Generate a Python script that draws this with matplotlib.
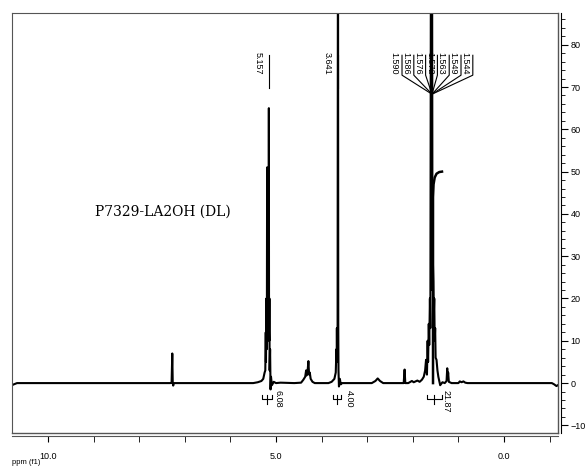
import matplotlib
matplotlib.use('Agg')
import matplotlib.pyplot as plt
from matplotlib.ticker import MultipleLocator, FormatStrFormatter

# 스펙트럼 트레이스 (ppm, intensity) - 그림에서 읽은 값
ppm = [10.81, 10.75, 10.68, 7.32, 7.29, 7.275, 7.265, 7.255, 7.24,
       5.50, 5.40, 5.32, 5.28, 5.25, 5.235, 5.225, 5.22, 5.215, 5.21,
       5.205, 5.20, 5.195, 5.19, 5.187, 5.185, 5.18, 5.177, 5.172, 5.17,
       5.165, 5.16, 5.157, 5.153, 5.15, 5.147, 5.145, 5.14,
       5.13, 5.12, 5.11, 5.09, 5.05, 5.00, 4.90, 4.60, 4.45, 4.40, 4.36,
       4.34, 4.33, 4.31, 4.29, 4.275, 4.26, 4.24, 4.20, 4.15, 3.85, 3.78,
       3.72, 3.69, 3.675, 3.67, 3.665, 3.66, 3.655, 3.65, 3.641, 3.635,
       3.63, 3.62, 3.60, 3.58, 3.55, 2.90, 2.82, 2.77, 2.72, 2.65, 2.20,
       2.18, 2.165, 2.10, 2.02, 1.98, 1.90, 1.85, 1.80, 1.76, 1.73, 1.71,
       1.69, 1.675, 1.665, 1.650, 1.64, 1.625, 1.615, 1.60, 1.59, 1.58,
       1.57, 1.563, 1.549, 1.54, 1.53, 1.52, 1.51, 1.50, 1.48, 1.46, 1.44,
       1.42, 1.40, 1.35, 1.30, 1.26, 1.245, 1.235, 1.225, 1.21, 1.15, 1.00,
       0.97, 0.93, 0.89, 0.85, 0.80, -1.05, -1.10, -1.15, -1.18]
inten = [-0.6, -0.3, 0.0, 0.0, 0.1, 7.0, 0.0, -0.6, 0.0,
         0.0, 0.2, 0.5, 1.0, 2.5, 3.0, 12, 5, 14, 20,
         8, 18, 51, 22, 36, 25, 14, 33, 18, 30,
         15, 22, 65, 12, 10, 18, 20, 3,
         8, -1.5, 1.5, -0.5, 0.3, 0.0, 0.1, 0.0, 0.1, 0.8, 1.5,
         3.0, 1.8, 2.5, 5.2, 2.0, 2.5, 1.0, 0.3, 0.0, 0.0, 0.3,
         1.0, 2.5, 8, 5, 13, 6, 12, 8, 130, 14,
         3, -0.8, 1.0, -0.3, 0.0, 0.0, 0.5, 1.1, 0.5, 0.0, 0.0,
         3.2, 0.0, 0.0, 0.5, 0.2, 0.6, 0.3, 0.8, 1.5, 3.0, 5.5,
         2.0, 10, 5, 14, 9, 20, 13, 130, 22, 130,
         40, 30, 24, 16, 20, 10, 13, 6, 5.5, 3.0, 1.5,
         0.5, -0.5, 0.2, 0.0, 0.5, 3.5, 1.0, 2.5, 0.3, 0.0, 0.0,
         0.4, 0.2, 0.4, 0.1, 0.0, 0.0, -0.3, -0.7, -0.5]

# 1.56 ppm 근처의 휘어진 선
curl_ppm = [1.557, 1.557, 1.545, 1.52, 1.48, 1.42, 1.36]
curl_int = [0, 44, 47, 48.6, 49.5, 49.9, 50.0]

# 피크 라벨
single_peaks = [5.157, 3.641]
multi_peaks = ['1.590', '1.586', '1.576', '1.572', '1.563', '1.549', '1.544']
multi_center = 1.579

# 적분 값과 범위
integrals = ['6.08', '4.00', '21.87']
int_ranges = [(5.31, 5.09), (3.75, 3.57), (1.69, 1.36)]
int_label_ppm = [4.96, 3.39, 1.27]

W, H = 586, 468
px_per_ppm = 45.6

fig = plt.figure(figsize=(W / 100, H / 100), dpi=100)
ax = fig.add_axes([12 / W, 1 - 433 / H, 546 / W, 420 / H])
ax.set_xlim(10.79, -1.184)
ax.set_ylim(-11.8, 87.5)

frame_c = '#555555'
ax.plot(ppm, inten, color='black', lw=1.5)
ax.plot(curl_ppm, curl_int, color='black', lw=1.8)

# 라벨 (위쪽)
lab_top = 78.3
for p in single_peaks:
    ax.plot([p, p], [77.5, 69.7], color='black', lw=0.8)
    ax.text(p + 11 / px_per_ppm, lab_top, '%.3f' % p, rotation=-90,
            ha='center', va='top', fontsize=6.5, family='Liberation Sans')

for i, lab in enumerate(multi_peaks):
    lx = 402 + i * 11.8
    lp = (504 - lx) / px_per_ppm
    ax.plot([lp, lp, multi_center], [77.5, 72.8, 68.3], color='black', lw=0.8)
    ax.text(lp + 8 / px_per_ppm, lab_top, lab, rotation=-90,
            ha='center', va='top', fontsize=6.5, family='Liberation Sans')

# 적분 표시
for lab, (a, b), lp in zip(integrals, int_ranges, int_label_ppm):
    m = (a + b) / 2
    ax.plot([a, a, b, b], [-2.8, -3.8, -3.8, -2.8], color='black', lw=0.8)
    ax.plot([m, m], [-2.8, -5.0], color='black', lw=0.8)
    ax.text(lp, -1.6, lab, rotation=-90, ha='center', va='top',
            fontsize=6.5, family='Liberation Sans')

ax.text((95 - 12) / 546, (433 - 212) / 420, 'P7329-LA2OH (DL)',
        transform=ax.transAxes, ha='left', va='center', fontsize=10,
        family='DejaVu Serif')

# 축
for s in ['left', 'top']:
    ax.spines[s].set_color(frame_c)
ax.spines['right'].set_position(('outward', 2))
ax.spines['bottom'].set_position(('outward', 2))
ax.spines['bottom'].set_color(frame_c)
ax.plot([1, 1], [0, 1], transform=ax.transAxes, color=frame_c, lw=1, clip_on=False)
ax.plot([0, 1], [0, 0], transform=ax.transAxes, color=frame_c, lw=1, clip_on=False)

ax.xaxis.set_major_locator(MultipleLocator(5))
ax.xaxis.set_minor_locator(MultipleLocator(1))
ax.xaxis.set_major_formatter(FormatStrFormatter('%.1f'))
ax.tick_params(axis='x', which='both', direction='out', length=4, labelsize=6.5, pad=8)

ax.yaxis.tick_right()
ax.yaxis.set_major_locator(MultipleLocator(10))
ax.yaxis.set_minor_locator(MultipleLocator(2))
ax.tick_params(axis='y', which='major', direction='out', length=5, labelsize=6.5, pad=2)
ax.tick_params(axis='y', which='minor', direction='out', length=3)
for t in ax.get_xticklabels() + ax.get_yticklabels():
    t.set_family('Liberation Sans')

fig.text(12 / W, 1 - 463 / H, 'ppm (f1)', fontsize=5.5, va='center', family='Liberation Sans')

plt.savefig('out.png', dpi=100)
